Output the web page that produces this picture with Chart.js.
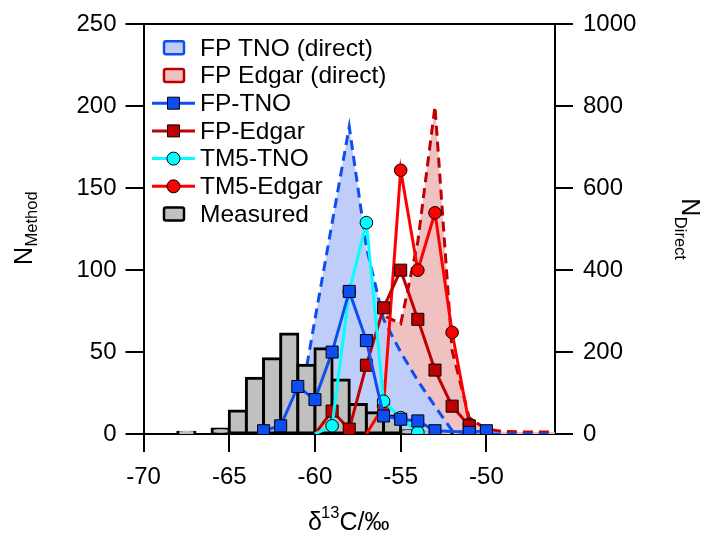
<!DOCTYPE html>
<html><head><meta charset="utf-8">
<script src="https://cdn.jsdelivr.net/npm/chart.js@4.4.0/dist/chart.umd.min.js"></script>
<style>html,body{margin:0;padding:0;background:#fff;}canvas{display:block;}</style>
</head><body>
<canvas id="c" width="702" height="537"></canvas>
<script>
const FONT = '"Liberation Sans", Arial, Helvetica, sans-serif';

// ---------- data ----------
const xTickValues = [-70, -65, -60, -55, -50];
const leftTickValues = [0, 50, 100, 150, 200, 250];
const rightTickValues = [0, 200, 400, 600, 800, 1000];

// direct (right axis)
const tnoDirectX = [-65,-64,-63,-62,-61,-60,-59,-58,-57,-56,-55,-54,-53,-52,-51,-50,-49,-48,-47,-46];
const fpTnoDirect = [0,0,0,0,40,280,515,750,456,280,200,130,68,8,2,0,0,0,0,0];
const edgarDirectX = [-62,-61,-60,-59,-58,-57,-56,-55,-54,-53,-52,-51,-50,-49,-48,-47,-46];
const fpEdgarDirect = [0,0,0,0,10,120,290,269,470,800,204,39,12,6,5,5,5];

// method (left axis)
const fpTnoX = [-63,-62,-61,-60,-59,-58,-57,-56,-55,-54,-53,-51,-50];
const fpTnoN = [2,5,29,21,50,87,57,11,9,8,2,1,2];
const fpEdgarX = [-60,-59,-58,-57,-56,-55,-54,-53,-52,-51];
const fpEdgarN = [0,14,3,42,77,100,70,39,17,5];
const tm5TnoX = [-60,-59,-58,-57,-56,-55,-54];
const tm5TnoN = [0,5,87,129,20,10,1];
const tm5EdgarX = [-57,-56,-55,-54,-53,-52,-51];
const tm5EdgarN = [0,17,161,100,135,62,6];

// measured histogram: bin left edges and counts
const measuredBins = [-68,-67,-66,-65,-64,-63,-62,-61,-60,-59,-58,-57,-56,-55,-54,-53,-52,-51,-50];
const measuredN    = [1,0,3,14,34,46,61,42,52,33,18,13,11,2,1,0.5,0,1.4,0];

const pts = (xs, ys) => xs.map((x, i) => ({x, y: ys[i]}));

const C = {
  blue: '#0d4df2', blueFill: '#bfcdf9',
  dred: '#c00000', redFill: '#f0c1c1',
  cyan: '#00ffff', red: '#ff0000', gray: '#c0c0c0'
};

const lineDs = (label, xs, ys, color, style, order, r, hideFirst) => ({
  type: 'line', label, data: pts(xs, ys), yAxisID: 'y', order,
  borderColor: color, borderWidth: 3, backgroundColor: color,
  pointStyle: style,
  pointRadius: (ctx) => (hideFirst && ctx.dataIndex === 0) ? 0 : r,
  pointBorderColor: '#000', pointBorderWidth: 1, pointBackgroundColor: color,
  fill: false, tension: 0, legendKind: 'line'
});

const datasets = [
  { type: 'line', label: 'FP TNO (direct)', data: pts(tnoDirectX, fpTnoDirect), yAxisID: 'y2', order: 9,
    borderColor: C.blue, borderWidth: 3, borderDash: [10, 6], backgroundColor: C.blueFill,
    fill: 'origin', pointRadius: 0, tension: 0, legendKind: 'box', legendFill: C.blueFill },
  { type: 'line', label: 'FP Edgar (direct)', data: pts(edgarDirectX, fpEdgarDirect), yAxisID: 'y2', order: 10,
    borderColor: C.dred, borderWidth: 3, borderDash: [10, 6], backgroundColor: C.redFill,
    fill: 'origin', pointRadius: 0, tension: 0, legendKind: 'box', legendFill: C.redFill },
  lineDs('FP-TNO', fpTnoX, fpTnoN, C.blue, 'rect', 1, 8.5, false),
  lineDs('FP-Edgar', fpEdgarX, fpEdgarN, C.dred, 'rect', 3, 8.5, true),
  lineDs('TM5-TNO', tm5TnoX, tm5TnoN, C.cyan, 'circle', 2, 6.3, true),
  lineDs('TM5-Edgar', tm5EdgarX, tm5EdgarN, C.red, 'circle', 4, 6.3, true),
  { type: 'bar', label: 'Measured', yAxisID: 'y', order: 8,
    data: measuredBins.map((b, i) => ({x: b + 0.5, y: measuredN[i]})).filter(p => p.y > 0),
    backgroundColor: C.gray, borderColor: '#000', borderWidth: 3, inflateAmount: 1.5,
    borderSkipped: false, barPercentage: 1, categoryPercentage: 1, grouped: false,
    legendKind: 'box', legendFill: C.gray, legendBorder: '#000' }
];
const legendOrder = ['FP TNO (direct)', 'FP Edgar (direct)', 'FP-TNO', 'FP-Edgar', 'TM5-TNO', 'TM5-Edgar', 'Measured'];

const axisCommon = {
  grid: { drawOnChartArea: false, drawTicks: true, tickLength: 18, color: '#000', lineWidth: 2, offset: false },
  border: { display: true, color: '#000', width: 2 },
  ticks: { color: '#000', font: { family: FONT, size: 24 }, callback: (v) => String(v) }
};

const decor = {
  id: 'decor',
  afterDraw(chart) {
    const ctx = chart.ctx;
    const ca = chart.chartArea;
    ctx.save();
    ctx.fillStyle = '#000';
    ctx.textAlign = 'left';
    ctx.textBaseline = 'alphabetic';
    // left title N_Method
    ctx.save();
    ctx.translate(31.7, 265);
    ctx.rotate(-Math.PI / 2);
    ctx.font = '25px ' + FONT;
    ctx.fillText('N', 0, 0);
    let w = ctx.measureText('N').width;
    ctx.font = '16.5px ' + FONT;
    ctx.fillText('Method', w + 0.5, 5.6);
    ctx.restore();
    // right title N_Direct
    ctx.save();
    ctx.translate(681.7, 198.3);
    ctx.rotate(Math.PI / 2);
    ctx.font = '25px ' + FONT;
    ctx.fillText('N', 0, 0);
    w = ctx.measureText('N').width;
    ctx.font = '16.5px ' + FONT;
    ctx.fillText('Direct', w + 0.5, 7);
    ctx.restore();
    // bottom title δ13C/‰
    ctx.font = '25px ' + FONT;
    const p1 = 'δ', p3 = 'C/‰';
    const w1 = ctx.measureText(p1).width, w3 = ctx.measureText(p3).width;
    ctx.font = '16.5px ' + FONT;
    const w2 = ctx.measureText('13').width;
    const cx = (ca.left + ca.right) / 2;
    let x0 = cx - (w1 + w2 + w3) / 2;
    const by = 530;
    ctx.font = '25px ' + FONT;
    ctx.fillText(p1, x0, by);
    ctx.font = '16.5px ' + FONT;
    ctx.fillText('13', x0 + w1 - 1, by - 12.5);
    ctx.font = '25px ' + FONT;
    ctx.fillText(p3, x0 + w1 + w2 - 1, by);

    // legend
    const y0 = 47.8, step = 27.7;
    const lx0 = 152, lx1 = 195, mx = 173.5, tx = 200;
    legendOrder.forEach((name, i) => {
      const ds = chart.data.datasets.find(d => d.label === name);
      const y = y0 + i * step;
      if (ds.legendKind === 'box') {
        ctx.fillStyle = ds.legendFill;
        ctx.strokeStyle = ds.legendBorder || ds.borderColor;
        ctx.lineWidth = 2.5;
        ctx.beginPath();
        if (ctx.roundRect) ctx.roundRect(164, y - 6.5, 20, 13, 2); else ctx.rect(164, y - 6.5, 20, 13);
        ctx.fill(); ctx.stroke();
      } else {
        ctx.strokeStyle = ds.borderColor;
        ctx.lineWidth = 3;
        ctx.beginPath(); ctx.moveTo(lx0, y); ctx.lineTo(lx1, y); ctx.stroke();
        ctx.fillStyle = ds.pointBackgroundColor;
        ctx.strokeStyle = '#000'; ctx.lineWidth = 1;
        ctx.beginPath();
        if (ds.pointStyle === 'rect') ctx.rect(mx - 6, y - 6, 12, 12);
        else ctx.arc(mx, y, 6.5, 0, Math.PI * 2);
        ctx.fill(); ctx.stroke();
      }
      ctx.fillStyle = '#000';
      ctx.font = '24.5px ' + FONT;
      ctx.textBaseline = 'middle';
      ctx.fillText(name, tx, y + 1);
      ctx.textBaseline = 'alphabetic';
    });
    ctx.restore();
  }
};

new Chart(document.getElementById('c'), {
  type: 'scatter',
  data: { datasets },
  options: {
    responsive: false, animation: false, devicePixelRatio: 1,
    layout: { padding: { top: 23, left: 0, right: 0, bottom: 0 } },
    plugins: { legend: { display: false }, tooltip: { enabled: false }, title: { display: false } },
    scales: {
      x: { type: 'linear', position: 'bottom', min: -70, max: -46, offset: false,
        ...axisCommon,
        ticks: { ...axisCommon.ticks, padding: 11, maxRotation: 0 },
        afterBuildTicks: (s) => { s.ticks = xTickValues.map(v => ({value: v})); },
        afterFit: (s) => { s.height = 103; } },
      xTop: { type: 'linear', position: 'top', min: -70, max: -46, offset: false,
        ticks: { display: false }, grid: { display: false, offset: false },
        border: { display: true, color: '#000', width: 2 },
        afterFit: (s) => { s.height = 0; } },
      y: { type: 'linear', position: 'left', min: 0, max: 250,
        ...axisCommon,
        ticks: { ...axisCommon.ticks, padding: 9 },
        afterBuildTicks: (s) => { s.ticks = leftTickValues.map(v => ({value: v})); },
        afterFit: (s) => { s.width = 143.5; } },
      y2: { type: 'linear', position: 'right', min: 0, max: 1000,
        ...axisCommon,
        ticks: { ...axisCommon.ticks, padding: 10 },
        afterBuildTicks: (s) => { s.ticks = rightTickValues.map(v => ({value: v})); },
        afterFit: (s) => { s.width = 147; } }
    }
  },
  plugins: [decor]
});
</script>
</body></html>
